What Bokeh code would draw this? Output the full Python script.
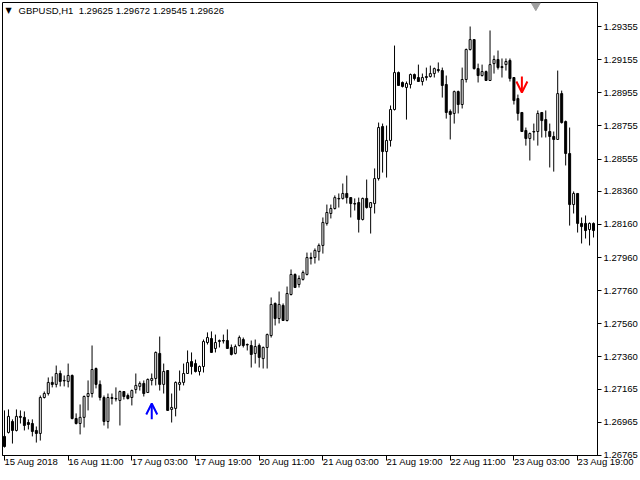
from bokeh.plotting import figure
from bokeh.models import (ColumnDataSource, FixedTicker, PrintfTickFormatter, Label,
                          Arrow, OpenHead, Range1d)
from bokeh.embed import file_html
from bokeh.resources import INLINE

# ---------------- data (GBPUSD, H1) ----------------
opens = [
    1.26880, 1.26904, 1.26970, 1.26916, 1.27001, 1.26995, 1.26964, 1.26958, 1.26916, 1.26898,
    1.27115, 1.27139, 1.27206, 1.27194, 1.27260, 1.27218, 1.27212, 1.27248, 1.26988, 1.26958,
    1.26995, 1.27121, 1.27139, 1.27290, 1.27194, 1.27115, 1.26970, 1.27109, 1.27109, 1.27097,
    1.27151, 1.27127, 1.27115, 1.27163, 1.27182, 1.27200, 1.27145, 1.27218, 1.27230, 1.27381,
    1.27194, 1.27278, 1.27043, 1.27049, 1.27194, 1.27206, 1.27260, 1.27332, 1.27320, 1.27272,
    1.27302, 1.27447, 1.27471, 1.27411, 1.27453, 1.27459, 1.27459, 1.27417, 1.27381, 1.27429,
    1.27465, 1.27435, 1.27429, 1.27381, 1.27429, 1.27350, 1.27417, 1.27489, 1.27683, 1.27592,
    1.27671, 1.27580, 1.27737, 1.27858, 1.27797, 1.27828, 1.27858, 1.27960, 1.27960, 1.27996,
    1.28033, 1.28166, 1.28226, 1.28256, 1.28317, 1.28317, 1.28347, 1.28322, 1.28286, 1.28292,
    1.28190, 1.28317, 1.28262, 1.28286, 1.28437, 1.28751, 1.28600, 1.28667, 1.28854, 1.29077,
    1.29017, 1.28987, 1.29005, 1.29065, 1.29047, 1.29023, 1.29053, 1.29053, 1.29071, 1.29095,
    1.29089, 1.29005, 1.28842, 1.28830, 1.28962, 1.28884, 1.29035, 1.29216, 1.29276, 1.29101,
    1.29059, 1.29083, 1.29029, 1.29131, 1.29156, 1.29113, 1.29125, 1.29150, 1.29047, 1.28920,
    1.28836, 1.28727, 1.28679, 1.28721, 1.28721, 1.28836, 1.28793, 1.28721, 1.28691, 1.28673,
    1.28950, 1.28781, 1.28588, 1.28280, 1.28347, 1.28166, 1.28166, 1.28129, 1.28166,
]
highs = [
    1.27037, 1.27043, 1.26983, 1.27043, 1.27037, 1.27031, 1.26983, 1.26983, 1.26940, 1.27127,
    1.27151, 1.27236, 1.27242, 1.27308, 1.27278, 1.27248, 1.27320, 1.27254, 1.27019, 1.27073,
    1.27127, 1.27218, 1.27429, 1.27296, 1.27218, 1.27127, 1.27139, 1.27139, 1.27176, 1.27157,
    1.27151, 1.27139, 1.27163, 1.27260, 1.27212, 1.27218, 1.27230, 1.27260, 1.27393, 1.27483,
    1.27320, 1.27278, 1.27139, 1.27212, 1.27278, 1.27320, 1.27399, 1.27387, 1.27344, 1.27308,
    1.27465, 1.27508, 1.27514, 1.27495, 1.27465, 1.27495, 1.27526, 1.27435, 1.27435, 1.27489,
    1.27477, 1.27441, 1.27459, 1.27465, 1.27441, 1.27423, 1.27501, 1.27719, 1.27689, 1.27755,
    1.27683, 1.27785, 1.27888, 1.27864, 1.27852, 1.27882, 1.27990, 1.27990, 1.28015, 1.28045,
    1.28202, 1.28280, 1.28280, 1.28335, 1.28347, 1.28407, 1.28455, 1.28322, 1.28317, 1.28322,
    1.28322, 1.28431, 1.28292, 1.28498, 1.28775, 1.28769, 1.28757, 1.28878, 1.29240, 1.29083,
    1.29023, 1.29023, 1.29071, 1.29071, 1.29125, 1.29071, 1.29107, 1.29119, 1.29107, 1.29138,
    1.29107, 1.29059, 1.28854, 1.28968, 1.28968, 1.29107, 1.29222, 1.29355, 1.29276, 1.29131,
    1.29125, 1.29089, 1.29331, 1.29180, 1.29210, 1.29162, 1.29162, 1.29162, 1.29047, 1.28944,
    1.28836, 1.28745, 1.28715, 1.28769, 1.28848, 1.28836, 1.28848, 1.28769, 1.28721, 1.29089,
    1.28968, 1.28787, 1.28745, 1.28359, 1.28347, 1.28202, 1.28214, 1.28172, 1.28172,
]
lows = [
    1.26813, 1.26898, 1.26837, 1.26910, 1.26958, 1.26916, 1.26922, 1.26880, 1.26843, 1.26855,
    1.27109, 1.27127, 1.27176, 1.27176, 1.27182, 1.27182, 1.27176, 1.26983, 1.26952, 1.26892,
    1.26934, 1.27037, 1.27115, 1.27170, 1.27097, 1.26946, 1.26928, 1.27073, 1.27091, 1.26946,
    1.27103, 1.27103, 1.27067, 1.27139, 1.27157, 1.27121, 1.27145, 1.27188, 1.27188, 1.27157,
    1.27139, 1.27037, 1.26964, 1.27001, 1.27157, 1.27188, 1.27260, 1.27254, 1.27266, 1.27248,
    1.27266, 1.27435, 1.27387, 1.27387, 1.27417, 1.27441, 1.27411, 1.27369, 1.27375, 1.27423,
    1.27417, 1.27399, 1.27296, 1.27320, 1.27296, 1.27290, 1.27290, 1.27477, 1.27550, 1.27562,
    1.27580, 1.27574, 1.27731, 1.27779, 1.27779, 1.27821, 1.27852, 1.27918, 1.27924, 1.27942,
    1.27984, 1.28153, 1.28196, 1.28250, 1.28262, 1.28310, 1.28286, 1.28202, 1.28244, 1.28111,
    1.28184, 1.28256, 1.28105, 1.28226, 1.28425, 1.28473, 1.28443, 1.28630, 1.28848, 1.28999,
    1.28987, 1.28793, 1.28981, 1.29029, 1.29023, 1.28999, 1.29029, 1.29047, 1.29047, 1.29077,
    1.28926, 1.28799, 1.28673, 1.28769, 1.28830, 1.28860, 1.29017, 1.29210, 1.29095, 1.29017,
    1.29053, 1.29029, 1.29029, 1.29071, 1.29095, 1.29047, 1.29089, 1.29023, 1.28884, 1.28787,
    1.28721, 1.28636, 1.28546, 1.28667, 1.28636, 1.28685, 1.28685, 1.28504, 1.28479, 1.28673,
    1.28769, 1.28516, 1.28153, 1.28226, 1.28111, 1.28045, 1.28075, 1.28033, 1.28081,
]
closes = [
    1.26819, 1.27001, 1.26916, 1.27001, 1.26995, 1.26946, 1.26952, 1.26910, 1.26898, 1.27115,
    1.27139, 1.27206, 1.27194, 1.27260, 1.27212, 1.27215, 1.27248, 1.26988, 1.26958, 1.26995,
    1.27121, 1.27139, 1.27284, 1.27194, 1.27115, 1.26970, 1.27115, 1.27115, 1.27106, 1.27151,
    1.27121, 1.27109, 1.27157, 1.27188, 1.27200, 1.27139, 1.27224, 1.27230, 1.27387, 1.27194,
    1.27272, 1.27037, 1.27055, 1.27206, 1.27206, 1.27260, 1.27326, 1.27302, 1.27272, 1.27302,
    1.27453, 1.27477, 1.27387, 1.27447, 1.27459, 1.27456, 1.27411, 1.27375, 1.27423, 1.27477,
    1.27429, 1.27432, 1.27375, 1.27423, 1.27357, 1.27417, 1.27495, 1.27677, 1.27592, 1.27677,
    1.27580, 1.27743, 1.27858, 1.27779, 1.27834, 1.27870, 1.27960, 1.27954, 1.28003, 1.28033,
    1.28172, 1.28232, 1.28256, 1.28322, 1.28314, 1.28347, 1.28322, 1.28286, 1.28283, 1.28190,
    1.28317, 1.28262, 1.28292, 1.28437, 1.28745, 1.28600, 1.28667, 1.28854, 1.29077, 1.28999,
    1.28993, 1.29011, 1.29065, 1.29041, 1.29023, 1.29047, 1.29047, 1.29071, 1.29101, 1.29089,
    1.28999, 1.28836, 1.28824, 1.28962, 1.28884, 1.29035, 1.29216, 1.29276, 1.29101, 1.29059,
    1.29083, 1.29029, 1.29125, 1.29156, 1.29107, 1.29107, 1.29144, 1.29041, 1.28908, 1.28830,
    1.28721, 1.28679, 1.28709, 1.28718, 1.28830, 1.28787, 1.28727, 1.28691, 1.28673, 1.28950,
    1.28775, 1.28588, 1.28280, 1.28347, 1.28166, 1.28147, 1.28123, 1.28166, 1.28123,
]

# time-axis labels (every 16 bars)
time_tick_bars = [0, 16, 32, 48, 64, 80, 96, 112, 128, 144]
time_tick_labels = ["15 Aug 2018", "16 Aug 11:00", "17 Aug 03:00", "17 Aug 19:00",
                    "20 Aug 11:00", "21 Aug 03:00", "21 Aug 19:00", "22 Aug 11:00",
                    "23 Aug 03:00", "23 Aug 19:00"]

# price-axis labels
price_ticks = [1.26765, 1.26965, 1.27165, 1.27360, 1.27560, 1.27760, 1.27960,
               1.28160, 1.28360, 1.28555, 1.28755, 1.28955, 1.29155, 1.29355]

# signal arrows
buy_bar = [37]
buy_from = [1.26983]
buy_to = [1.27079]
sell_bar = [130]
sell_from = [1.29053]
sell_to = [1.28957]

# chart shift marker
shift_marker_bar = [133.5]
shift_marker_price = [1.29482]

title_text = "GBPUSD,H1\u00a0\u00a01.29625 1.29672 1.29545 1.29626"

# ---------------- figure ----------------
FONT = "Liberation Sans"
FSIZE = "9.5px"
Y_LO, Y_HI = 1.267648, 1.29500

n = len(opens)
bars = list(range(n))
src = ColumnDataSource(dict(
    x=bars, h=highs, l=lows,
    top=[max(o, c) for o, c in zip(opens, closes)],
    bottom=[min(o, c) for o, c in zip(opens, closes)],
    fill=["white" if c >= o else "black" for o, c in zip(opens, closes)],
))

p = figure(width=640, height=480,
           x_range=Range1d(-0.5, 149), y_range=Range1d(Y_LO, Y_HI),
           toolbar_location=None, output_backend="svg",
           x_axis_location="below", y_axis_location="right",
           min_border_left=2, min_border_top=2, min_border_right=40, min_border_bottom=25)
p.grid.visible = False
p.outline_line_color = "black"
p.outline_line_width = 1
p.background_fill_color = "white"
p.border_fill_color = "white"

p.segment(x0="x", y0="h", x1="x", y1="l", source=src, line_color="black", line_width=1)
p.vbar(x="x", top="top", bottom="bottom", width=0.5, fill_color="fill",
       line_color="black", line_width=1, source=src)

# price axis (right)
ya = p.yaxis[0]
ya.ticker = FixedTicker(ticks=price_ticks)
ya.formatter = PrintfTickFormatter(format="%.5f")
ya.major_tick_out = 4
ya.major_tick_in = 0
ya.minor_tick_out = 0
ya.minor_tick_in = 0
ya.axis_line_color = "black"
ya.major_tick_line_color = "black"
ya.major_label_standoff = 2
ya.major_label_text_font = FONT
ya.major_label_text_font_size = FSIZE
ya.major_label_text_color = "black"

# time axis (bottom): labels start at their tick (tiny negative angle -> left aligned)
xa = p.xaxis[0]
xa.ticker = FixedTicker(ticks=time_tick_bars)
xa.major_label_overrides = dict(zip(time_tick_bars, time_tick_labels))
xa.major_label_orientation = -0.0001
xa.major_tick_out = 5
xa.major_tick_in = 0
xa.minor_tick_out = 0
xa.minor_tick_in = 0
xa.axis_line_color = "black"
xa.major_tick_line_color = "black"
xa.major_label_standoff = 1
xa.major_label_text_font = FONT
xa.major_label_text_font_size = FSIZE
xa.major_label_text_color = "black"

# signal arrows
buy_src = ColumnDataSource(dict(x=buy_bar, y0=buy_from, y1=buy_to))
p.add_layout(Arrow(end=OpenHead(size=11, line_color="#0000FF", line_width=2),
                   x_start="x", y_start="y0", x_end="x", y_end="y1",
                   source=buy_src, line_color="#0000FF", line_width=2))
sell_src = ColumnDataSource(dict(x=sell_bar, y0=sell_from, y1=sell_to))
p.add_layout(Arrow(end=OpenHead(size=11, line_color="#FF0000", line_width=2),
                   x_start="x", y_start="y0", x_end="x", y_end="y1",
                   source=sell_src, line_color="#FF0000", line_width=2))

# chart shift marker
p.scatter(x=shift_marker_bar, y=shift_marker_price, marker="inverted_triangle",
          size=9, fill_color="#A0A0A0", line_color="#A0A0A0")

# header
p.add_layout(Label(x=-0.5, y=Y_HI, x_offset=3, y_offset=-8, text="\u25bc",
                   text_font="DejaVu Sans", text_font_size="8px",
                   text_baseline="middle", text_color="black"))
p.add_layout(Label(x=-0.5, y=Y_HI, x_offset=16, y_offset=-8, text=title_text,
                   text_font=FONT, text_font_size=FSIZE,
                   text_baseline="middle", text_color="black"))

open("out.html", "w").write(file_html(p, INLINE))
